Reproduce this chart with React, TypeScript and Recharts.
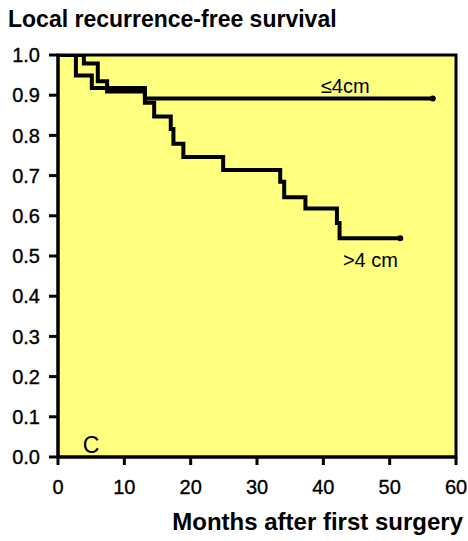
import React from 'react';
import { LineChart, Line, XAxis, YAxis, ReferenceArea, ReferenceDot, Label } from 'recharts';

const smallTumour = [
  { t: 0, s: 1.0 },
  { t: 3.9, s: 0.979 },
  { t: 6.0, s: 0.935 },
  { t: 7.4, s: 0.909 },
  { t: 13.1, s: 0.892 },
  { t: 56.5, s: 0.892 },
];

const largeTumour = [
  { t: 0, s: 1.0 },
  { t: 2.7, s: 0.949 },
  { t: 5.1, s: 0.918 },
  { t: 13.1, s: 0.881 },
  { t: 14.5, s: 0.847 },
  { t: 17.0, s: 0.816 },
  { t: 17.4, s: 0.779 },
  { t: 18.9, s: 0.746 },
  { t: 24.9, s: 0.714 },
  { t: 33.5, s: 0.685 },
  { t: 34.1, s: 0.646 },
  { t: 37.3, s: 0.618 },
  { t: 42.05, s: 0.582 },
  { t: 42.45, s: 0.544 },
  { t: 51.6, s: 0.544 },
];

const xTicks = [0, 10, 20, 30, 40, 50, 60];
const yTicks = [0, 0.1, 0.2, 0.3, 0.4, 0.5, 0.6, 0.7, 0.8, 0.9, 1.0];

const FONT = '"Liberation Sans", Arial, Helvetica, sans-serif';

const endDot = (n: number) => (props: any) => {
  const { cx, cy, index } = props;
  if (index !== n - 1) return <g key={`d${index}`} />;
  return <circle key={`d${index}`} cx={cx} cy={cy} r={3} fill="#000" />;
};

const tickStyle = { fill: '#000', fontSize: 20, fontFamily: FONT, stroke: '#000', strokeWidth: 0.35 };

export default function App() {
  return (
    <div style={{ position: 'absolute', left: 0, top: 0, width: 468, height: 541, background: '#fff', fontFamily: FONT, overflow: 'hidden' }}>
      <div style={{ position: 'absolute', left: 8, top: 8, fontSize: 23, lineHeight: '23px', fontWeight: 'bold', color: '#000', whiteSpace: 'nowrap' }}>
        Local recurrence-free survival
      </div>
      <div style={{ position: 'absolute', right: 5, top: 510, fontSize: 24, lineHeight: '24px', fontWeight: 'bold', color: '#000', whiteSpace: 'nowrap' }}>
        Months after first surgery
      </div>
      <LineChart width={468} height={541} margin={{ top: 55, right: 12, bottom: 54, left: 8 }}>
        <XAxis
          dataKey="t"
          type="number"
          domain={[0, 60]}
          ticks={xTicks}
          height={30}
          axisLine={{ stroke: '#000', strokeWidth: 3 }}
          tickLine={{ stroke: '#000', strokeWidth: 3 }}
          tickSize={8}
          tick={tickStyle}
          tickMargin={15}
          allowDataOverflow
        />
        <YAxis
          type="number"
          domain={[0, 1]}
          ticks={yTicks}
          width={50}
          axisLine={{ stroke: '#000', strokeWidth: 3 }}
          tickLine={{ stroke: '#000', strokeWidth: 3 }}
          tickSize={9}
          tick={tickStyle}
          tickMargin={9}
          tickFormatter={(v: number) => v.toFixed(1)}
          allowDataOverflow
        />
        <ReferenceArea x1={0} x2={60} y1={0} y2={1} fill="#FFFF80" fillOpacity={1} stroke="#000" strokeWidth={3} />
        <Line
          data={smallTumour}
          dataKey="s"
          type="stepAfter"
          stroke="#000"
          strokeWidth={4}
          dot={endDot(smallTumour.length)}
          activeDot={false}
          isAnimationActive={false}
        />
        <Line
          data={largeTumour}
          dataKey="s"
          type="stepAfter"
          stroke="#000"
          strokeWidth={4}
          dot={endDot(largeTumour.length)}
          activeDot={false}
          isAnimationActive={false}
        />
        <ReferenceDot x={43.3} y={0.923} r={0} fill="none" stroke="none">
          <Label value="≤4cm" position="center" fill="#000" fontSize={20} fontFamily={FONT} />
        </ReferenceDot>
        <ReferenceDot x={47.1} y={0.49} r={0} fill="none" stroke="none">
          <Label value=">4 cm" position="center" fill="#000" fontSize={20} fontFamily={FONT} />
        </ReferenceDot>
        <ReferenceDot x={5.0} y={0.03} r={0} fill="none" stroke="none">
          <Label value="C" position="center" fill="#000" fontSize={23} fontFamily={FONT} />
        </ReferenceDot>
      </LineChart>
    </div>
  );
}
